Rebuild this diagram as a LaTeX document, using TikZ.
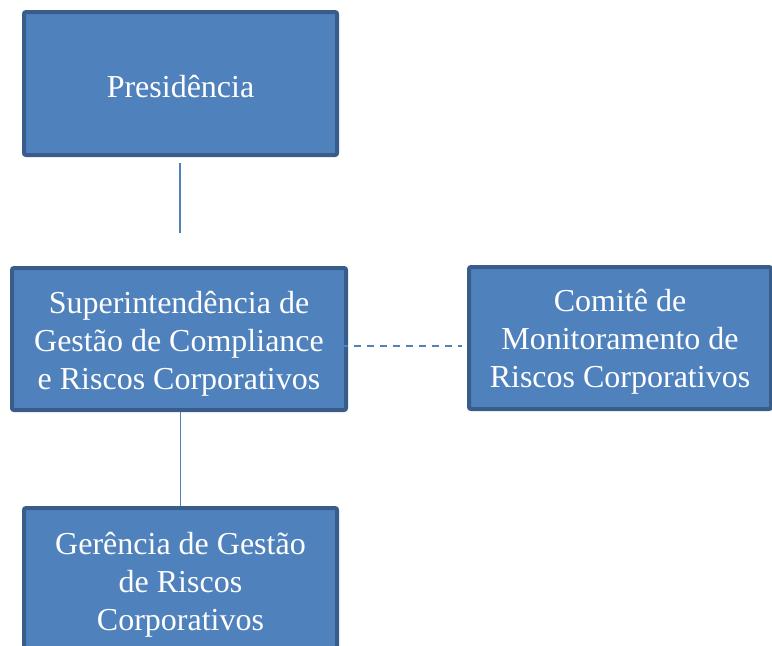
\documentclass[tikz,border=0pt]{standalone}
\usepackage{fontspec}
\setmainfont{Liberation Serif}
\usepackage{tikz}
\usetikzlibrary{calc}
\definecolor{boxfill}{HTML}{4F81BD}
\definecolor{boxline}{HTML}{385D8A}

\begin{document}
\begin{tikzpicture}[x=1pt,y=-1pt,
  orgbox/.style={draw=boxline, line width=4pt, fill=boxfill, rounded corners=2pt, inner sep=0pt},
  orgtext/.style={text=white, align=center, inner sep=0pt, font=\fontsize{32}{38}\selectfont},
  link/.style={draw=boxfill, line width=1.5pt}]
\useasboundingbox (0,0) rectangle (772,646);
\node[orgbox, minimum width=313pt, minimum height=143pt,
  label={[orgtext, yshift=-3pt]center:Presidência}] (pres) at (180.5,83.5) {};
\node[orgbox, minimum width=334pt, minimum height=142pt,
  label={[orgtext, yshift=-5pt]center:{Superintendência de\\Gestão de Compliance\\e Riscos Corporativos}}] (super) at (179,339) {};
\node[orgbox, minimum width=302pt, minimum height=142pt,
  label={[orgtext, yshift=-4pt]center:{Comitê de\\Monitoramento de\\Riscos Corporativos}}] (comite) at (620,338) {};
\node[orgbox, minimum width=313pt, minimum height=143pt,
  label={[orgtext, yshift=-5pt]center:{Gerência de Gestão\\de Riscos\\Corporativos}}] (ger) at (180.5,579.5) {};
% connectors
\coordinate (presend) at (180,233);
\draw[link] ([yshift=-6pt]pres.south -| presend) -- (presend);
\draw[link] (super.south -| ger.north) -- (ger.north);
\coordinate (dashend) at ([xshift=-5pt,yshift=-8pt]comite.west);
\draw[link, dash pattern=on 7pt off 6pt] ([xshift=-20pt]super.east |- dashend) -- (dashend);
\end{tikzpicture}
\end{document}
